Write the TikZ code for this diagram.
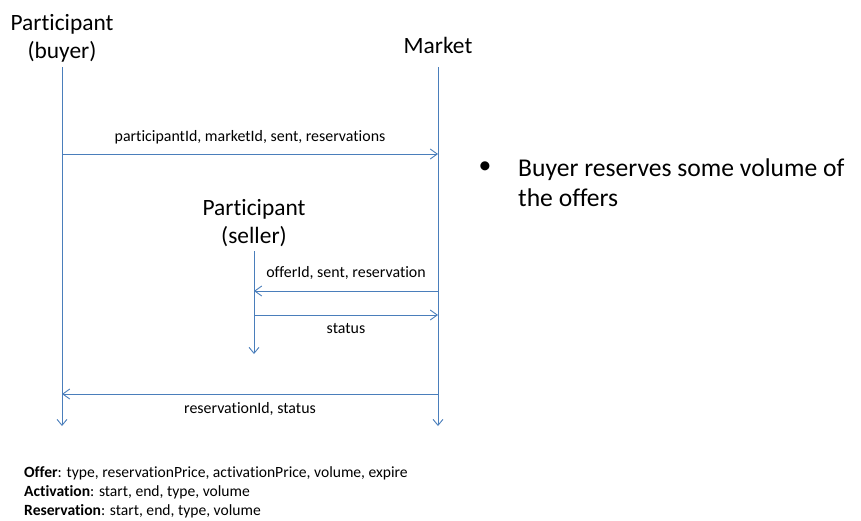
\documentclass[tikz,border=0pt]{standalone}
\usepackage{fontspec}
\setmainfont{Carlito}[Ligatures=NoCommon]
\usetikzlibrary{arrows.meta}
\definecolor{lineblue}{RGB}{74,126,187}
\tikzset{
  actor/.style={inner sep=0pt, align=center, font=\fontsize{23.4}{28}\selectfont, anchor=base},
  lbl/.style={inner sep=0pt, font=\fontsize{15.9}{19}\selectfont, anchor=base},
  life/.style={draw=lineblue, line width=0.9pt, -{Straight Barb[length=6pt,width=10pt]}},
  msg/.style={draw=lineblue, line width=0.9pt, -{Straight Barb[length=7pt,width=10pt]}},
}
\begin{document}
\begin{tikzpicture}[x=1pt,y=-1pt]
\useasboundingbox (0,0) rectangle (861,520);
% actors (base = baseline of last line)
\node[actor] (buyer) at (62,58) {Participant\\(buyer)};
\node[actor] (market) at (438,53) {Market};
\node[actor] (seller) at (254,243) {Participant\\(seller)};
% lifeline coordinates
\coordinate (bTop) at (62,67);
\coordinate (bEnd) at (62,426);
\coordinate (mTop) at (438,67);
\coordinate (mEnd) at (438,426);
\coordinate (sTop) at (254,251);
\coordinate (sEnd) at (254,354);
\draw[life] (bTop) -- (bEnd);
\draw[life] (mTop) -- (mEnd);
\draw[life] (sTop) -- (sEnd);
% messages
\coordinate (m1a) at (62,154);  \coordinate (m1b) at (438,154);
\coordinate (m2a) at (438,291); \coordinate (m2b) at (254,291);
\coordinate (m3a) at (254,315); \coordinate (m3b) at (438,315);
\coordinate (m4a) at (438,394); \coordinate (m4b) at (62,394);
\draw[msg] (m1a) -- (m1b);
\draw[msg] (m2a) -- (m2b);
\draw[msg] (m3a) -- (m3b);
\draw[msg] (m4a) -- (m4b);
\node[lbl] (l1) at (250,141) {participantId, marketId, sent, reservations};
\node[lbl] (l2) at (346,277) {offerId, sent, reservation};
\node[lbl] (l3) at (346,333) {status};
\node[lbl] (l4) at (250,413) {reservationId, status};
% bullet
\node[inner sep=0pt, anchor=base west, font=\fontsize{25.6}{30}\selectfont, align=left] (bul) at (518,206) {Buyer reserves some volume of\\the offers};
\node[inner sep=0pt, anchor=base, font=\fontsize{25.6}{30}\selectfont] (dot) at (485,173) {•};
% legend
\node[inner sep=0pt, anchor=base west, font=\fontsize{15.6}{19}\selectfont, align=left] (legend) at (24,515)
  {\textbf{Offer}: type, reservationPrice, activationPrice, volume, expire\\
   \textbf{Activation}: start, end, type, volume\\
   \textbf{Reservation}: start, end, type, volume};
\end{tikzpicture}
\end{document}
